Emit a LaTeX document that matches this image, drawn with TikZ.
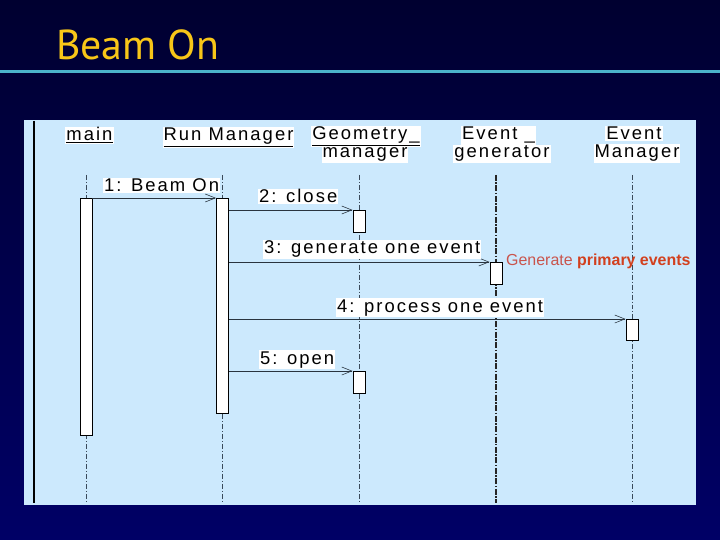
\documentclass[tikz,border=0pt]{standalone}
\usepackage{fontspec}
\setmainfont{Liberation Sans}
\newfontfamily\umlfont[LetterSpace=11]{Liberation Sans}
\newfontfamily\titlefont{PT Sans}
\usetikzlibrary{arrows.meta}
\definecolor{navytop}{HTML}{000030}
\definecolor{navybot}{HTML}{000066}
\definecolor{panelblue}{HTML}{CCE9FD}
\definecolor{rulecyan}{HTML}{4BB3CB}
\definecolor{titleyellow}{HTML}{F8C618}
\definecolor{lifegray}{HTML}{3A4A5A}
\definecolor{notelight}{HTML}{C9544C}
\definecolor{notebold}{HTML}{D2401E}
\tikzset{
  hdr/.style={fill=white, inner sep=1pt, text=black, anchor=base,
    font=\umlfont\fontsize{18.5}{20}\selectfont},
  msglbl/.style={fill=white, inner sep=1pt, text=black, anchor=base west,
    font=\umlfont\fontsize{18.5}{20}\selectfont},
  life/.style={draw=lifegray, line width=0.6pt,
    dash pattern=on 5pt off 2pt on 1pt off 2pt},
  lifebold/.style={draw=black!85, line width=1.3pt,
    dash pattern=on 6pt off 1.5pt on 1.5pt off 1.5pt},
  act/.style={draw=black, fill=white, line width=0.8pt, minimum width=12bp,
    inner sep=0pt, anchor=north},
  msg/.style={draw=lifegray!70!black, line width=0.7pt,
    -{Straight Barb[length=10pt,width=8pt,line width=0.6pt]}},
}
\begin{document}
\begin{tikzpicture}[x=1bp,y=-1bp]
\useasboundingbox (0,0) rectangle (720,540);
\shade[top color=navytop, bottom color=navybot] (0,0) rectangle (720,540);
\fill[rulecyan] (0,70.5) rectangle (720,73.5);
\node[anchor=base west, inner sep=0pt, text=titleyellow,
  font=\titlefont\fontsize{42}{44}\selectfont] (title) at (56,60) {Beam On};
% panel
\fill[panelblue] (24,120) rectangle (696,505);
\draw[line width=1.2pt, black] (34,121) -- (34,503);
% headers
\node[hdr] (hMain) at (89.5,141) {\underline{main}};
\node[hdr] (hRun) at (228.5,141) {\underline{Run Manager}};
\node[hdr] (hGeo1) at (366,140) {\underline{Geometry\_}};
\node[hdr] (hGeo2) at (365,158) {manager};
\node[hdr] (hEg1) at (498.5,140) {Event \_};
\node[hdr] (hEg2) at (502,158) {generator};
\node[hdr] (hEm1) at (634,140) {Event};
\node[hdr] (hEm2) at (637,158) {Manager};
% lifeline ends
\coordinate (mainTop) at (86,175);  \coordinate (mainBot) at (86,503);
\coordinate (runTop) at (222.5,175); \coordinate (runBot) at (222.5,503);
\coordinate (geoTop) at (359,175);  \coordinate (geoBot) at (359,503);
\coordinate (egTop) at (496,175);   \coordinate (egBot) at (496,503);
\coordinate (emTop) at (632,175);   \coordinate (emBot) at (632,503);
\draw[life] (mainTop) -- (mainBot);
\draw[life] (runTop) -- (runBot);
\draw[life] (geoTop) -- (geoBot);
\draw[lifebold] (egTop) -- (egBot);
\draw[life] (emTop) -- (emBot);
% activations
\node[act, minimum height=237bp] (mainA) at (86,198) {};
\node[act, minimum height=215bp] (runA) at (222.5,198) {};
\node[act, minimum height=22bp] (geoA1) at (359,210) {};
\node[act, minimum height=22bp] (egA) at (496,262) {};
\node[act, minimum height=21bp] (emA) at (632,319) {};
\node[act, minimum height=22bp] (geoA2) at (359,371) {};
% messages
\draw[msg] (mainA.north east) -- (runA.north west);
\draw[msg] (runA.east |- geoA1.north) -- (geoA1.north west);
\draw[msg] (runA.east |- egA.north) -- (egA.north west);
\draw[msg] (runA.east |- emA.north) -- (emA.north west);
\draw[msg] (runA.east |- geoA2.north) -- (geoA2.north west);
% message labels
\node[msglbl] (l1) at (103,192) {1: Beam On};
\node[msglbl] (l2) at (258,203) {2: close};
\node[msglbl] (l3) at (263,254) {3: generate one event};
\node[msglbl] (l4) at (336,312) {4: process one event};
\node[msglbl] (l5) at (259,364) {5: open};
% note
\node[anchor=base west, inner sep=0pt, font=\fontsize{16}{18}\selectfont]
  (note) at (506,266) {\textcolor{notelight}{Generate} \textcolor{notebold}{\bfseries primary events}};
\end{tikzpicture}
\end{document}
